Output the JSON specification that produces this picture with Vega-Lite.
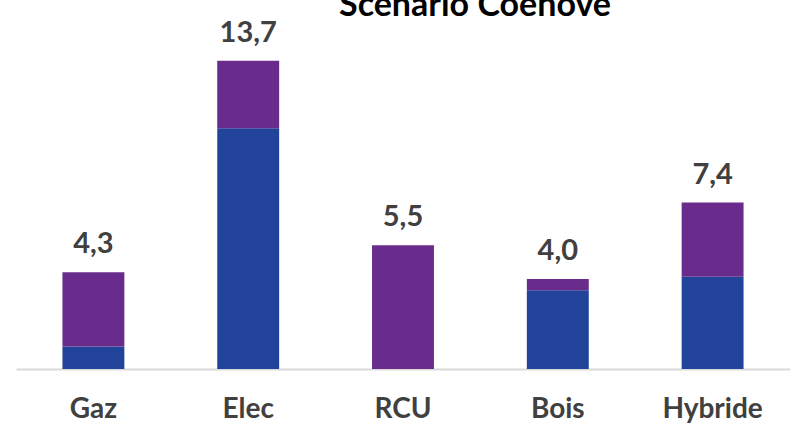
{
  "$schema": "https://vega.github.io/schema/vega-lite/v6.json",
  "width": 774,
  "height": 360,
  "padding": {"left": 16, "top": 9, "right": 0, "bottom": 58},
  "autosize": {"type": "none"},
  "background": "white",
  "config": {
    "view": {"stroke": null},
    "locale": {"number": {"decimal": ",", "thousands": " ", "grouping": [3], "currency": ["", " €"]}}
  },
  "title": {
    "text": "Scénario Coénove",
    "font": "Lato",
    "fontWeight": "bold",
    "fontSize": 34,
    "color": "#000000",
    "anchor": "middle",
    "dx": 72,
    "dy": 41,
    "baseline": "alphabetic",
    "offset": 0
  },
  "data": {
    "values": [
      {"filiere": "Gaz", "serie": "Série 1", "valeur": 1.0},
      {"filiere": "Gaz", "serie": "Série 2", "valeur": 3.3},
      {"filiere": "Elec", "serie": "Série 1", "valeur": 10.7},
      {"filiere": "Elec", "serie": "Série 2", "valeur": 3.0},
      {"filiere": "RCU", "serie": "Série 1", "valeur": 0.0},
      {"filiere": "RCU", "serie": "Série 2", "valeur": 5.5},
      {"filiere": "Bois", "serie": "Série 1", "valeur": 3.5},
      {"filiere": "Bois", "serie": "Série 2", "valeur": 0.5},
      {"filiere": "Hybride", "serie": "Série 1", "valeur": 4.1},
      {"filiere": "Hybride", "serie": "Série 2", "valeur": 3.3}
    ]
  },
  "encoding": {
    "x": {
      "field": "filiere",
      "type": "nominal",
      "sort": ["Gaz", "Elec", "RCU", "Bois", "Hybride"],
      "scale": {"paddingInner": 0.6, "paddingOuter": 0.3},
      "axis": {
        "title": null,
        "labelAngle": 0,
        "labelFont": "Lato",
        "labelFontWeight": "bold",
        "labelFontSize": 28,
        "labelColor": "#404040",
        "labelPadding": 26,
        "ticks": false,
        "domainColor": "#d9d9d9",
        "domainWidth": 2,
        "grid": false
      }
    }
  },
  "layer": [
    {
      "mark": {"type": "bar"},
      "encoding": {
        "y": {
          "field": "valeur",
          "type": "quantitative",
          "stack": "zero",
          "scale": {"domain": [0, 16], "nice": false},
          "axis": null
        },
        "color": {
          "field": "serie",
          "type": "nominal",
          "scale": {"domain": ["Série 1", "Série 2"], "range": ["#21439a", "#6a2c8c"]},
          "legend": null
        },
        "order": {"field": "serie", "sort": "ascending"}
      }
    },
    {
      "mark": {
        "type": "text",
        "font": "Lato",
        "fontWeight": "bold",
        "fontSize": 29,
        "color": "#404040",
        "baseline": "alphabetic",
        "dy": -19
      },
      "encoding": {
        "y": {"aggregate": "sum", "field": "valeur", "type": "quantitative"},
        "text": {"aggregate": "sum", "field": "valeur", "type": "quantitative", "format": ".1f"}
      }
    }
  ]
}
